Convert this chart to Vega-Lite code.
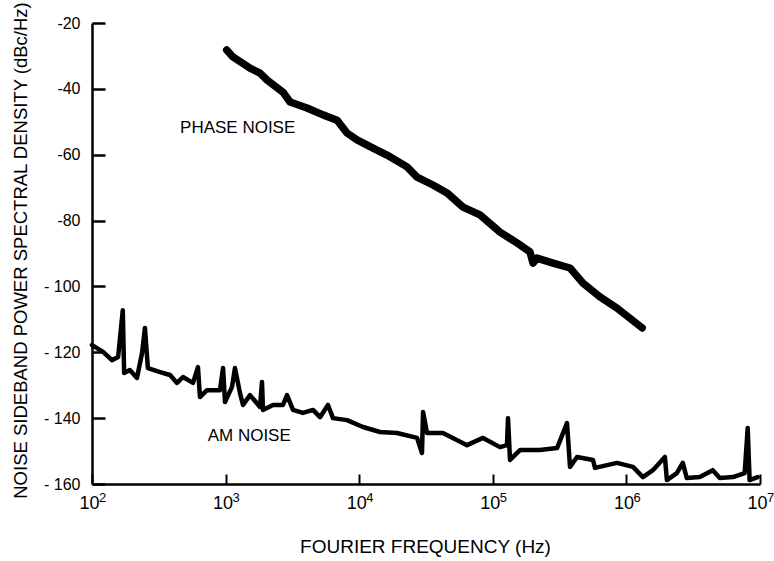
{
  "$schema": "https://vega.github.io/schema/vega-lite/v6.json",
  "width": 668,
  "height": 461,
  "autosize": "none",
  "padding": {"left": 92, "top": 23, "right": 14, "bottom": 77},
  "background": "white",
  "config": {
    "view": {"stroke": null},
    "font": "Liberation Sans",
    "axis": {"grid": false, "domainColor": "black", "tickColor": "black", "labelColor": "black", "titleColor": "black", "titleFontWeight": "normal", "labelFont": "Liberation Sans", "titleFont": "Liberation Sans"}
  },
  "datasets": {
    "phase": [
      {"frequency_hz": 1019, "dbc_per_hz": -28.2},
      {"frequency_hz": 1135, "dbc_per_hz": -30.3},
      {"frequency_hz": 1523, "dbc_per_hz": -33.7},
      {"frequency_hz": 1809, "dbc_per_hz": -35.2},
      {"frequency_hz": 2041, "dbc_per_hz": -37.3},
      {"frequency_hz": 2690, "dbc_per_hz": -41.0},
      {"frequency_hz": 3035, "dbc_per_hz": -44.0},
      {"frequency_hz": 4067, "dbc_per_hz": -45.8},
      {"frequency_hz": 5358, "dbc_per_hz": -47.9},
      {"frequency_hz": 6823, "dbc_per_hz": -49.5},
      {"frequency_hz": 8106, "dbc_per_hz": -53.4},
      {"frequency_hz": 9634, "dbc_per_hz": -55.5},
      {"frequency_hz": 12690, "dbc_per_hz": -58.0},
      {"frequency_hz": 16150, "dbc_per_hz": -60.1},
      {"frequency_hz": 22800, "dbc_per_hz": -63.7},
      {"frequency_hz": 27090, "dbc_per_hz": -66.8},
      {"frequency_hz": 35670, "dbc_per_hz": -69.2},
      {"frequency_hz": 45420, "dbc_per_hz": -71.6},
      {"frequency_hz": 59840, "dbc_per_hz": -75.9},
      {"frequency_hz": 80170, "dbc_per_hz": -78.3},
      {"frequency_hz": 113200, "dbc_per_hz": -83.5},
      {"frequency_hz": 151800, "dbc_per_hz": -86.8},
      {"frequency_hz": 189800, "dbc_per_hz": -89.5},
      {"frequency_hz": 199900, "dbc_per_hz": -92.9},
      {"frequency_hz": 214200, "dbc_per_hz": -91.4},
      {"frequency_hz": 282300, "dbc_per_hz": -92.9},
      {"frequency_hz": 378400, "dbc_per_hz": -94.4},
      {"frequency_hz": 473200, "dbc_per_hz": -99.0},
      {"frequency_hz": 634000, "dbc_per_hz": -103.2},
      {"frequency_hz": 850600, "dbc_per_hz": -106.6},
      {"frequency_hz": 1312000, "dbc_per_hz": -112.6}
    ],
    "am": [
      {"frequency_hz": 100, "dbc_per_hz": -117.8},
      {"frequency_hz": 121, "dbc_per_hz": -119.9},
      {"frequency_hz": 141, "dbc_per_hz": -122.4},
      {"frequency_hz": 157, "dbc_per_hz": -121.4},
      {"frequency_hz": 170, "dbc_per_hz": -107.2},
      {"frequency_hz": 174, "dbc_per_hz": -126.3},
      {"frequency_hz": 192, "dbc_per_hz": -125.4},
      {"frequency_hz": 217, "dbc_per_hz": -127.8},
      {"frequency_hz": 237, "dbc_per_hz": -120.2},
      {"frequency_hz": 249, "dbc_per_hz": -112.6},
      {"frequency_hz": 262, "dbc_per_hz": -124.8},
      {"frequency_hz": 323, "dbc_per_hz": -126.0},
      {"frequency_hz": 384, "dbc_per_hz": -126.9},
      {"frequency_hz": 433, "dbc_per_hz": -129.3},
      {"frequency_hz": 480, "dbc_per_hz": -127.5},
      {"frequency_hz": 570, "dbc_per_hz": -129.3},
      {"frequency_hz": 621, "dbc_per_hz": -124.5},
      {"frequency_hz": 643, "dbc_per_hz": -133.6},
      {"frequency_hz": 726, "dbc_per_hz": -131.5},
      {"frequency_hz": 908, "dbc_per_hz": -131.5},
      {"frequency_hz": 957, "dbc_per_hz": -124.8},
      {"frequency_hz": 990, "dbc_per_hz": -135.1},
      {"frequency_hz": 1117, "dbc_per_hz": -130.5},
      {"frequency_hz": 1175, "dbc_per_hz": -124.8},
      {"frequency_hz": 1282, "dbc_per_hz": -132.4},
      {"frequency_hz": 1350, "dbc_per_hz": -136.0},
      {"frequency_hz": 1523, "dbc_per_hz": -133.0},
      {"frequency_hz": 1809, "dbc_per_hz": -136.6},
      {"frequency_hz": 1872, "dbc_per_hz": -129.0},
      {"frequency_hz": 1905, "dbc_per_hz": -137.5},
      {"frequency_hz": 2263, "dbc_per_hz": -136.0},
      {"frequency_hz": 2690, "dbc_per_hz": -136.0},
      {"frequency_hz": 2883, "dbc_per_hz": -133.0},
      {"frequency_hz": 3194, "dbc_per_hz": -137.5},
      {"frequency_hz": 3796, "dbc_per_hz": -138.4},
      {"frequency_hz": 4511, "dbc_per_hz": -137.5},
      {"frequency_hz": 5090, "dbc_per_hz": -139.7},
      {"frequency_hz": 5837, "dbc_per_hz": -136.0},
      {"frequency_hz": 6364, "dbc_per_hz": -140.0},
      {"frequency_hz": 8106, "dbc_per_hz": -140.6},
      {"frequency_hz": 10670, "dbc_per_hz": -142.7},
      {"frequency_hz": 14310, "dbc_per_hz": -144.2},
      {"frequency_hz": 19190, "dbc_per_hz": -144.5},
      {"frequency_hz": 25270, "dbc_per_hz": -145.7},
      {"frequency_hz": 27090, "dbc_per_hz": -146.0},
      {"frequency_hz": 29510, "dbc_per_hz": -150.6},
      {"frequency_hz": 30060, "dbc_per_hz": -138.1},
      {"frequency_hz": 32160, "dbc_per_hz": -144.5},
      {"frequency_hz": 42360, "dbc_per_hz": -144.5},
      {"frequency_hz": 64120, "dbc_per_hz": -148.2},
      {"frequency_hz": 84470, "dbc_per_hz": -146.0},
      {"frequency_hz": 113200, "dbc_per_hz": -148.8},
      {"frequency_hz": 127700, "dbc_per_hz": -148.2},
      {"frequency_hz": 130000, "dbc_per_hz": -140.0},
      {"frequency_hz": 134500, "dbc_per_hz": -152.7},
      {"frequency_hz": 159800, "dbc_per_hz": -149.7},
      {"frequency_hz": 225600, "dbc_per_hz": -149.7},
      {"frequency_hz": 302500, "dbc_per_hz": -149.1},
      {"frequency_hz": 359300, "dbc_per_hz": -141.5},
      {"frequency_hz": 378400, "dbc_per_hz": -154.8},
      {"frequency_hz": 426800, "dbc_per_hz": -151.8},
      {"frequency_hz": 562300, "dbc_per_hz": -152.7},
      {"frequency_hz": 582100, "dbc_per_hz": -155.1},
      {"frequency_hz": 850600, "dbc_per_hz": -153.6},
      {"frequency_hz": 1120000, "dbc_per_hz": -154.8},
      {"frequency_hz": 1330000, "dbc_per_hz": -157.9},
      {"frequency_hz": 1579000, "dbc_per_hz": -155.8},
      {"frequency_hz": 1941000, "dbc_per_hz": -151.8},
      {"frequency_hz": 2010000, "dbc_per_hz": -158.8},
      {"frequency_hz": 2384000, "dbc_per_hz": -156.7},
      {"frequency_hz": 2643000, "dbc_per_hz": -153.6},
      {"frequency_hz": 2832000, "dbc_per_hz": -158.2},
      {"frequency_hz": 3542000, "dbc_per_hz": -157.9},
      {"frequency_hz": 4432000, "dbc_per_hz": -155.8},
      {"frequency_hz": 5000000, "dbc_per_hz": -158.2},
      {"frequency_hz": 6275000, "dbc_per_hz": -157.9},
      {"frequency_hz": 7680000, "dbc_per_hz": -156.7},
      {"frequency_hz": 8090000, "dbc_per_hz": -143.0},
      {"frequency_hz": 8360000, "dbc_per_hz": -158.8},
      {"frequency_hz": 9600000, "dbc_per_hz": -157.9}
    ],
    "labels": [
      {"label": "PHASE NOISE", "frequency_hz": 456, "dbc_per_hz": -51.9},
      {"label": "AM NOISE", "frequency_hz": 734, "dbc_per_hz": -145.3}
    ],
    "xticks": [
      {"frequency_hz": 100, "exponent": "2"},
      {"frequency_hz": 1000, "exponent": "3"},
      {"frequency_hz": 10000, "exponent": "4"},
      {"frequency_hz": 100000, "exponent": "5"},
      {"frequency_hz": 1000000, "exponent": "6"},
      {"frequency_hz": 10000000, "exponent": "7"}
    ]
  },
  "layer": [
    {
      "data": {"name": "phase"},
      "mark": {"type": "line", "color": "black", "strokeWidth": 7.5, "strokeCap": "round", "strokeJoin": "round"},
      "encoding": {
        "x": {
          "field": "frequency_hz", "type": "quantitative",
          "scale": {"type": "log", "domain": [100, 10000000], "nice": false},
          "axis": {
            "values": [100, 1000, 10000, 100000, 1000000, 10000000],
            "labelExpr": "'10'",
            "labelFlush": false,
            "labelFontSize": 18,
            "labelPadding": 20,
            "labelOffset": -3,
            "domainWidth": 2.5,
            "ticks": true,
            "tickSize": -10,
            "tickWidth": 2,
            "tickColor": "black",
            "title": "FOURIER FREQUENCY (Hz)",
            "titleFontSize": 19,
            "titleX": 333,
            "titleY": 62,
            "titleBaseline": "middle"
          }
        },
        "y": {
          "field": "dbc_per_hz", "type": "quantitative",
          "scale": {"domain": [-160, -20], "nice": false, "zero": false},
          "axis": {
            "values": [-20, -40, -60, -80, -100, -120, -140, -160],
            "labelExpr": "datum.value <= -100 ? '- ' + abs(datum.value) : '-' + abs(datum.value)",
            "labelFontSize": 16,
            "labelPadding": 25,
            "domainWidth": 2.5,
            "ticks": true,
            "tickSize": -13,
            "tickWidth": 2.5,
            "tickColor": "black",
            "title": "NOISE SIDEBAND POWER SPECTRAL DENSITY (dBc/Hz)",
            "titleFontSize": 18.5,
            "titleX": -72,
            "titleY": 227,
            "titleAngle": -90,
            "titleAlign": "center",
            "titleBaseline": "middle"
          }
        }
      }
    },
    {
      "data": {"name": "am"},
      "mark": {"type": "line", "color": "black", "strokeWidth": 4.5, "strokeCap": "round", "strokeJoin": "round"},
      "encoding": {
        "x": {"field": "frequency_hz", "type": "quantitative"},
        "y": {"field": "dbc_per_hz", "type": "quantitative"}
      }
    },
    {
      "data": {"name": "xticks"},
      "mark": {"type": "text", "align": "left", "baseline": "top", "dx": 7, "dy": 8, "fontSize": 13, "font": "Liberation Sans", "color": "black"},
      "encoding": {
        "x": {"field": "frequency_hz", "type": "quantitative"},
        "y": {"datum": -160, "type": "quantitative"},
        "text": {"field": "exponent"}
      }
    },
    {
      "data": {"name": "labels"},
      "mark": {"type": "text", "align": "left", "baseline": "middle", "fontSize": 17, "font": "Liberation Sans", "color": "black"},
      "encoding": {
        "x": {"field": "frequency_hz", "type": "quantitative"},
        "y": {"field": "dbc_per_hz", "type": "quantitative"},
        "text": {"field": "label"}
      }
    }
  ]
}
